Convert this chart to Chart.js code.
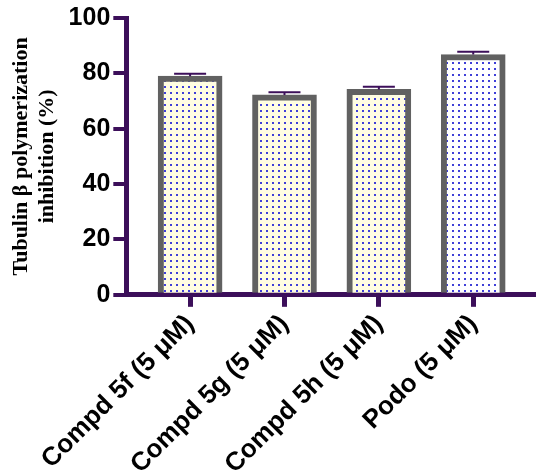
<!DOCTYPE html>
<html lang="en">
<head>
  <meta charset="UTF-8" />
  <title>Tubulin polymerization inhibition</title>
  <script src="https://cdn.jsdelivr.net/npm/chart.js"></script>
  <style>
    body { margin: 0; background: #fff; }
    #chart { display: block; }
  </style>
</head>
<body>
<canvas id="chart" width="536" height="473"></canvas>
<script>
  const categories = ['Compd 5f (5 μM)', 'Compd 5g (5 μM)', 'Compd 5h (5 μM)', 'Podo (5 μM)'];
  const inhibition = [79.0, 72.2, 74.2, 86.8];
  const errorUp = [0.9, 1.0, 1.0, 1.0];
  const fillColors = ['#fffde2', '#fffde2', '#fffde2', '#ffffff'];
  const yTicks = [0, 20, 40, 60, 80, 100];

  const axisColor = '#3c0f5a';

  function dotPattern(bg) {
    const c = document.createElement('canvas');
    c.width = 6; c.height = 6;
    const g = c.getContext('2d');
    g.fillStyle = bg;
    g.fillRect(0, 0, 6, 6);
    g.fillStyle = '#3f3fd8';
    g.fillRect(2, 2, 2, 2);
    return g.createPattern(c, 'repeat');
  }

  // error caps drawn on top of the bars
  const errorBars = {
    id: 'errorBars',
    afterDatasetsDraw(chart) {
      const ctx = chart.ctx;
      const y = chart.scales.y;
      const meta = chart.getDatasetMeta(0);
      ctx.save();
      ctx.strokeStyle = axisColor;
      ctx.lineWidth = 2;
      meta.data.forEach((bar, i) => {
        const top = y.getPixelForValue(inhibition[i]);
        const cap = y.getPixelForValue(inhibition[i] + errorUp[i]);
        ctx.beginPath();
        ctx.moveTo(bar.x, top);
        ctx.lineTo(bar.x, cap);
        ctx.moveTo(bar.x - 16, cap);
        ctx.lineTo(bar.x + 16, cap);
        ctx.stroke();
      });
      ctx.restore();
    }
  };

  new Chart(document.getElementById('chart'), {
    type: 'bar',
    data: {
      datasets: [{
        data: categories.map((_, i) => ({ x: i, y: inhibition[i] })),
        backgroundColor: fillColors.map(dotPattern),
        borderColor: '#616161',
        borderWidth: 6,
        barThickness: 64
      }]
    },
    options: {
      responsive: false,
      animation: false,
      layout: { padding: { top: 11, left: 9, right: 0, bottom: -9 } },
      plugins: { legend: { display: false }, tooltip: { enabled: false } },
      scales: {
        x: {
          type: 'linear',
          min: -0.676,
          max: 3.665,
          offset: false,
          z: 1,
          afterBuildTicks: s => { s.ticks = categories.map((_, i) => ({ value: i })); },
          ticks: {
            autoSkip: false,
            maxRotation: 45,
            minRotation: 45,
            padding: 2,
            color: '#000',
            font: { family: 'Arial', weight: 'bold', size: 26 },
            callback: v => categories[v]
          },
          grid: { drawOnChartArea: false, tickLength: 12, lineWidth: 5, color: axisColor, offset: false },
          border: { color: axisColor, width: 5 }
        },
        y: {
          min: 0,
          max: 100,
          z: 1,
          afterBuildTicks: s => { s.ticks = yTicks.map(v => ({ value: v })); },
          ticks: {
            padding: 3,
            color: '#000',
            font: { family: 'Arial', weight: 'bold', size: 25 }
          },
          grid: { drawOnChartArea: false, tickLength: 13, lineWidth: 4, color: axisColor },
          border: { color: axisColor, width: 5 },
          title: {
            display: true,
            text: ['Tubulin β polymerization', 'inhibition (%)'],
            color: '#000',
            font: { family: 'Times New Roman', weight: 'bold', size: 22, lineHeight: 1.15 },
            padding: { top: 0, bottom: 6 }
          }
        }
      }
    },
    plugins: [errorBars]
  });
</script>
</body>
</html>
